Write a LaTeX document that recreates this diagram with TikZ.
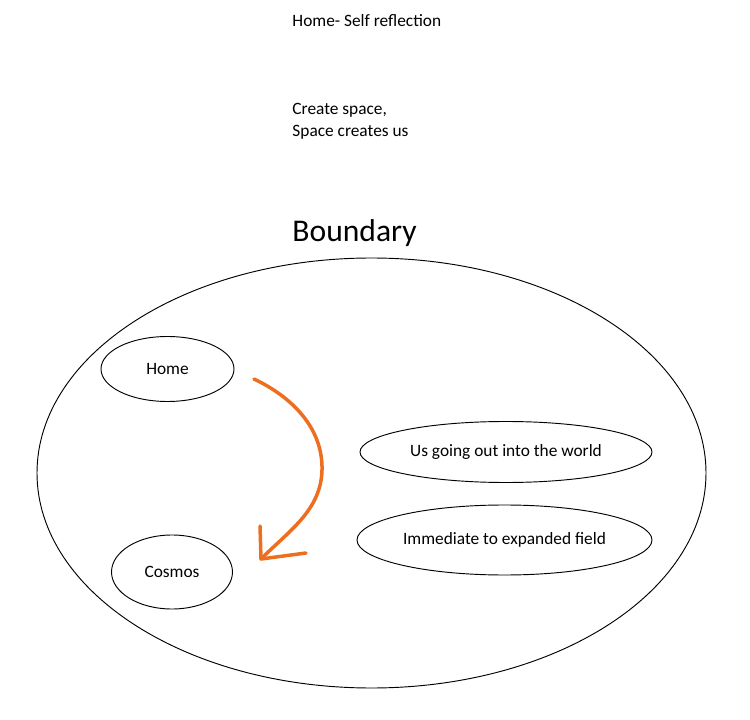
\documentclass[tikz,border=0pt]{standalone}
\usepackage{fontspec}
\setmainfont{Carlito}
\usepackage{tikz}
\usetikzlibrary{shapes.geometric}
\definecolor{penorange}{RGB}{237,110,30}

\begin{document}
\begin{tikzpicture}[x=0.75pt,y=-0.75pt,line width=0.7pt,
    oval/.style={draw,ellipse,inner sep=0pt,font=\fontsize{13}{16}\selectfont},
    plain/.style={anchor=base west,inner sep=0pt,font=\fontsize{13}{16}\selectfont}]
    \useasboundingbox (0,0) rectangle (750,720);

    \node[plain] (self) at (292,27) {Home- Self reflection};
    \node[plain,align=left] (create) at (292,137) {Create space,\\[1pt]Space creates us};
    \node[plain,font=\fontsize{23.7}{28}\selectfont] (bound) at (292,242) {Boundary};

    \node[draw,ellipse,minimum width=669*0.75pt,minimum height=430*0.75pt] (field) at (371.5,473) {};

    \node[oval,minimum width=133*0.75pt,minimum height=65*0.75pt] (home) at (167.5,369) {Home};
    \node[oval,minimum width=121*0.75pt,minimum height=74*0.75pt] (cosmos) at (172,572) {Cosmos};
    \node[oval,minimum width=292*0.75pt,minimum height=61*0.75pt] (world) at (506,452) {Us going out into the world};
    \node[oval,minimum width=295*0.75pt,minimum height=70*0.75pt] (expand) at (504.5,540) {Immediate to expanded field};

    \coordinate (s) at (254,379);
    \coordinate (t) at (261,559);
    \coordinate (b1) at (260,526);
    \coordinate (b2) at (306,553);
    \draw[penorange,line width=3.5pt*0.75,line cap=round,line join=round]
      (s) .. controls (292,397) and (323,428) .. (322,470)
          .. controls (321,510) and (290,530) .. (t);
    \draw[penorange,line width=3.5pt*0.75,line cap=round,line join=round]
      (b1) -- (t) -- (b2);
\end{tikzpicture}
\end{document}
